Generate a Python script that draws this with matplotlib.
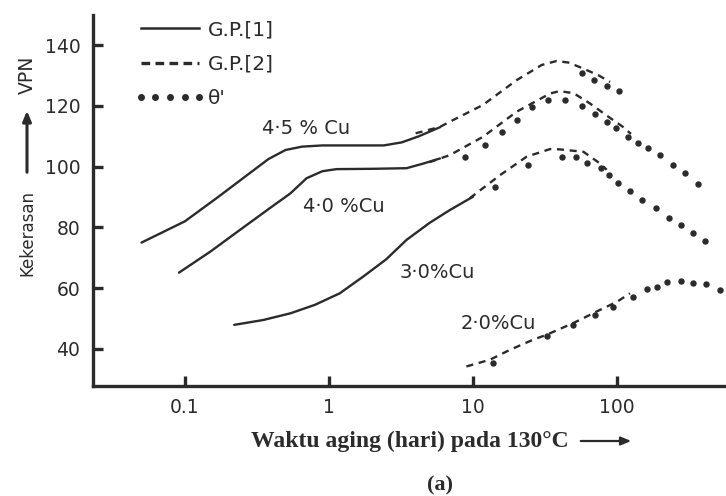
import matplotlib
matplotlib.use("Agg")
import matplotlib.pyplot as plt
from matplotlib.lines import Line2D
from matplotlib import font_manager

# ---------------- data (aging time in days, hardness VPN) ----------------
# 4.5 % Cu
gp1_45_t = [0.05, 0.1, 0.17, 0.25, 0.38, 0.5, 0.65, 0.9, 1.5, 2.4, 3.2, 4.2, 5.9]
gp1_45_v = [75.0, 82.0, 90.0, 96.0, 102.5, 105.5, 106.6, 107.0, 107.0, 107.0, 108.0, 110.0, 113.0]
gp2_45_t = [4.0, 5.9, 6.9, 11.7, 20.1, 30.0, 38.0, 46.0, 58.5, 75.0, 89.5]
gp2_45_v = [111.0, 113.1, 114.8, 120.3, 128.5, 133.5, 134.8, 134.3, 132.3, 130.0, 127.9]
th_45_t = [56.9, 69.0, 84.8, 104.0]
th_45_v = [130.7, 128.7, 126.5, 125.0]

# 4.0 % Cu
gp1_40_t = [0.091, 0.15, 0.24, 0.38, 0.54, 0.70, 0.9, 1.13, 2.0, 3.46, 4.5, 5.9]
gp1_40_v = [65.1, 72.0, 79.1, 86.0, 91.2, 96.2, 98.5, 99.2, 99.3, 99.5, 101.0, 102.7]
gp2_40_t = [5.0, 6.9, 11.7, 20.1, 34.3, 40.0, 50.0, 65.0, 85.0, 110.0, 125.0]
gp2_40_v = [101.5, 103.8, 109.8, 118.1, 124.1, 124.9, 124.2, 120.8, 116.8, 113.1, 110.8]
th_40_t = [8.8, 12.1, 15.8, 20.1, 25.6, 33.2, 43.4, 56.9, 70.4, 84.8, 99.0, 120.0,
           140.0, 163.0, 198.0, 245.0, 296.0, 367.0]
th_40_v = [103.3, 107.1, 111.5, 115.3, 119.7, 121.9, 122.1, 119.9, 117.3, 114.8, 112.6,
           109.8, 107.9, 106.0, 103.8, 100.5, 97.8, 94.3]

# 3.0 % Cu
gp1_30_t = [0.22, 0.35, 0.54, 0.8, 1.19, 1.73, 2.5, 3.46, 5.0, 6.9, 10.0]
gp1_30_v = [47.9, 49.5, 51.7, 54.5, 58.3, 63.8, 69.5, 75.9, 81.5, 85.7, 90.1]
gp2_30_t = [9.5, 15.4, 23.6, 34.3, 40.0, 58.5, 76.0, 84.8]
gp2_30_v = [89.6, 97.2, 103.3, 105.8, 105.7, 104.9, 101.1, 99.0]
th_30_t = [14.2, 24.2, 41.2, 51.9, 62.2, 77.0, 88.4, 102.0, 123.0, 150.0, 186.0, 230.0,
           280.0, 339.0, 408.0]
th_30_v = [93.4, 100.5, 103.3, 103.3, 101.3, 99.6, 97.2, 94.7, 92.0, 89.0, 86.3, 83.2,
           80.7, 78.1, 75.5]

# 2.0 % Cu
gp2_20_t = [9.0, 13.1, 18.1, 26.1, 32.3, 49.8, 76.0, 100.0, 123.0]
gp2_20_v = [34.2, 36.4, 39.7, 43.0, 44.6, 48.5, 52.8, 55.5, 58.3]
th_20_t = [13.8, 32.4, 49.8, 70.3, 94.0, 129.0, 161.0, 188.0, 221.0, 280.0, 339.0, 418.0, 519.0]
th_20_v = [35.3, 44.1, 47.9, 51.2, 53.9, 57.2, 59.6, 60.5, 62.1, 62.5, 61.8, 61.4, 59.4]

curve_labels = ["4\u00b75 % Cu", "4\u00b70 %Cu", "3\u00b70%Cu", "2\u00b70%Cu"]
label_t = [0.69, 1.27, 5.63, 14.9]
label_v = [112.7, 87.0, 65.0, 48.2]

x_ticks = [0.1, 1, 10, 100]
x_ticklabels = ["0.1", "1", "10", "100"]
y_ticks = [40, 60, 80, 100, 120, 140]
legend_labels = ["G.P.[1]", "G.P.[2]", "\u03b8'"]

# ---------------- style ----------------
INK = "#2b2b2b"
available = {f.name for f in font_manager.fontManager.ttflist}
COND = "DejaVu Sans Condensed" if "DejaVu Sans Condensed" in available else "DejaVu Sans"
NARROW = [COND, "DejaVu Sans"]
SANS = ["DejaVu Sans"]
SERIF = ["Liberation Serif", "DejaVu Serif"]

fig = plt.figure(figsize=(7.26, 4.96), dpi=100)
fig.patch.set_facecolor("white")
ax = fig.add_axes([0.128, 0.222, 0.872, 0.748])
ax.set_facecolor("none")

LW = 1.7
DASH = (3.0, 2.4)
MS = 3.6

solid_sets = [(gp1_45_t, gp1_45_v), (gp1_40_t, gp1_40_v), (gp1_30_t, gp1_30_v)]
dash_sets = [(gp2_45_t, gp2_45_v), (gp2_40_t, gp2_40_v), (gp2_30_t, gp2_30_v), (gp2_20_t, gp2_20_v)]
dot_sets = [(th_45_t, th_45_v), (th_40_t, th_40_v), (th_30_t, th_30_v), (th_20_t, th_20_v)]

for t, v in solid_sets:
    ax.plot(t, v, color=INK, lw=LW, solid_capstyle="round", solid_joinstyle="round")
for t, v in dash_sets:
    ax.plot(t, v, color=INK, lw=LW, dashes=DASH)
for t, v in dot_sets:
    ax.plot(t, v, linestyle="none", marker="o", ms=MS, color=INK, mec=INK)

for s, t, v in zip(curve_labels, label_t, label_v):
    ax.text(t, v, s, ha="center", va="center", fontsize=14, family=SANS, color=INK)

ax.set_xscale("log")
ax.set_xlim(0.023, 571)
ax.set_ylim(27.8, 150)
ax.set_xticks(x_ticks)
ax.set_xticklabels(x_ticklabels)
ax.xaxis.set_minor_locator(matplotlib.ticker.NullLocator())
ax.set_yticks(y_ticks)

for sp in ["top", "right"]:
    ax.spines[sp].set_visible(False)
for sp in ["left", "bottom"]:
    ax.spines[sp].set_linewidth(2.4)
    ax.spines[sp].set_color(INK)

ax.tick_params(axis="both", direction="in", length=7, width=2.4, color=INK,
               labelcolor=INK)
ax.tick_params(axis="y", pad=9)
ax.tick_params(axis="x", pad=9)
tick_size = 15 if COND != "DejaVu Sans" else 13.5
for lab in ax.get_yticklabels() + ax.get_xticklabels():
    lab.set_family(NARROW)
    lab.set_fontsize(tick_size)

# legend
handles = [
    Line2D([], [], color=INK, lw=1.8),
    Line2D([], [], color=INK, lw=2.4, dashes=(2.6, 1.6)),
    Line2D([], [], color=INK, linestyle="none", marker="o", ms=4.0),
]
leg = ax.legend(handles, legend_labels, loc="upper left", bbox_to_anchor=(0.066, 0.985),
                frameon=False, numpoints=5, handlelength=3.5, handletextpad=0.15,
                labelspacing=0.75, borderaxespad=0, borderpad=0,
                prop={"family": NARROW, "size": 14.5})
for txt in leg.get_texts():
    txt.set_color(INK)

# y-axis label: "Kekerasan ----> VPN" drawn vertically
W, H = 726.0, 496.0
kek_size = 14.5 if COND != "DejaVu Sans" else 12
fig.text(27 / W, 1 - 233 / H, "Kekerasan", rotation=90, ha="center", va="center",
         fontsize=kek_size, family=NARROW, color=INK)
fig.text(27 / W, 1 - 75 / H, "VPN", rotation=90, ha="center", va="center",
         fontsize=kek_size + 1.5, family=NARROW, color=INK)
fig.add_artist(matplotlib.patches.FancyArrowPatch(
    (27 / W, 1 - 175 / H), (27 / W, 1 - 108 / H), transform=fig.transFigure,
    arrowstyle="-|>,head_length=6,head_width=2.5", lw=2.2, color=INK))

# x-axis label with arrow
fig.text(410 / W, 1 - 441 / H, "Waktu aging (hari) pada 130\u00b0C", ha="center", va="center",
         fontsize=17, family=SERIF, weight="bold", color=INK)
fig.add_artist(matplotlib.patches.FancyArrowPatch(
    (578 / W, 1 - 441 / H), (634 / W, 1 - 441 / H), transform=fig.transFigure,
    arrowstyle="-|>,head_length=6,head_width=2.5", lw=1.6, color=INK))
fig.text(440 / W, 1 - 485 / H, "(a)", ha="center", va="center",
         fontsize=16, family=SERIF, weight="bold", color=INK)

fig.savefig("out.png", dpi=100)
